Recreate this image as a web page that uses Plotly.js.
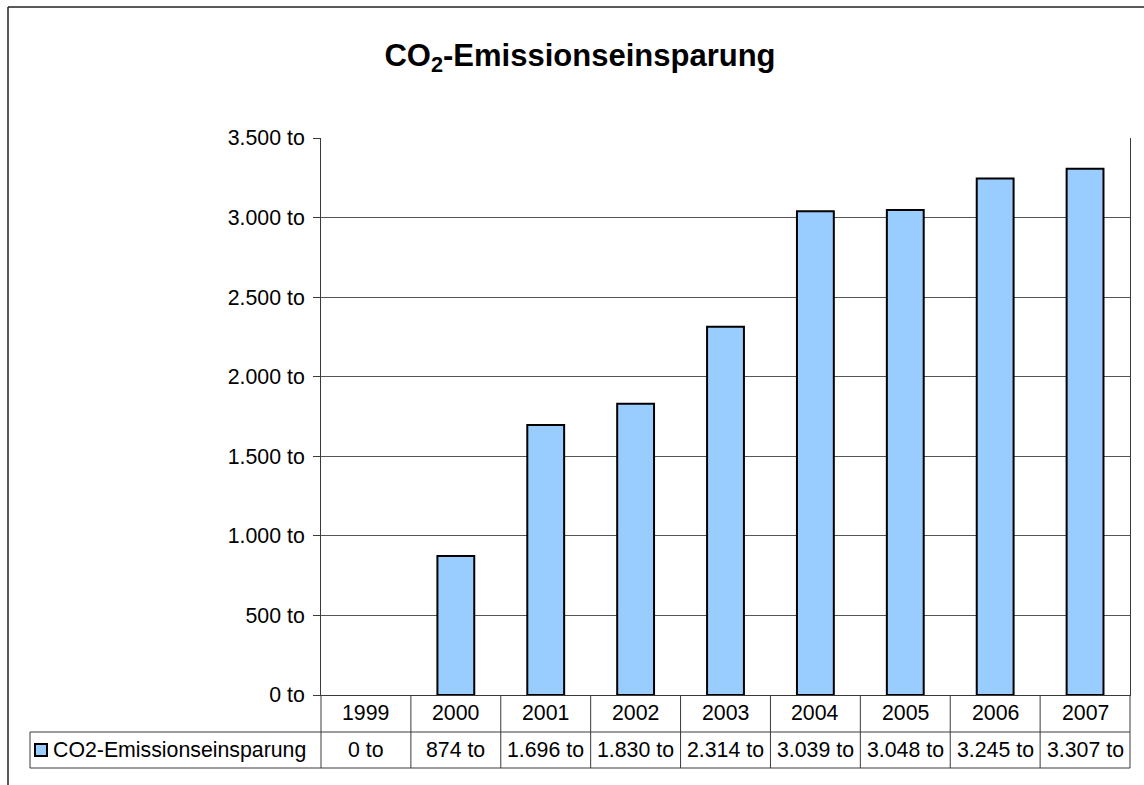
<!DOCTYPE html>
<html>
<head>
<meta charset="utf-8">
<script src="https://cdn.plot.ly/plotly-3.0.1.min.js"></script>
<style>
  html, body { margin: 0; padding: 0; background: #ffffff; }
  #chart { width: 1144px; height: 785px; }
</style>
</head>
<body>
<div id="chart"></div>
<script>
// ---- data ----
const years = ['1999', '2000', '2001', '2002', '2003', '2004', '2005', '2006', '2007'];
const savings = [0, 874, 1696, 1830, 2314, 3039, 3048, 3245, 3307];
const seriesName = 'CO2-Emissionseinsparung';
const chartTitle = 'CO<sub>2</sub>-Emissionseinsparung';
const yTickValues = [0, 500, 1000, 1500, 2000, 2500, 3000, 3500];
const unit = 'to';

// German thousands separator formatting
function fmt(v) {
  const s = String(Math.round(v));
  return s.replace(/\B(?=(\d{3})+(?!\d))/g, '.') + ' ' + unit;
}

// ---- layout geometry (pixels) ----
const W = 1144, H = 785;
const L = 321, R = 1130, T = 138, B = 695;
const PW = R - L, PH = B - T;
const px = x => (x - L) / PW;       // pixel x -> paper x
const py = y => (B - y) / PH;       // pixel y -> paper y
const catX = i => px(L + (i + 0.5) * PW / years.length);

const FONT = 'Liberation Sans, Arial, sans-serif';
const FS = 21.3;
const LINE = '#3a3a3a';
const GRID = '#555555';

const shapes = [];
const annotations = [];

// outer chart border (left + top visible)
shapes.push({type: 'line', xref: 'paper', yref: 'paper', x0: px(8), x1: px(1160), y0: py(7), y1: py(7), line: {color: '#222', width: 1.5}});
shapes.push({type: 'line', xref: 'paper', yref: 'paper', x0: px(8), x1: px(8), y0: py(7), y1: py(800), line: {color: '#222', width: 1.5}});

// data table lines
const rowMid = 732, rowBot = 768;
shapes.push({type: 'line', xref: 'paper', yref: 'paper', x0: px(30), x1: px(R), y0: py(rowMid), y1: py(rowMid), line: {color: LINE, width: 1}});
shapes.push({type: 'line', xref: 'paper', yref: 'paper', x0: px(30), x1: px(R), y0: py(rowBot), y1: py(rowBot), line: {color: LINE, width: 1}});
shapes.push({type: 'line', xref: 'paper', yref: 'paper', x0: px(30), x1: px(30), y0: py(rowMid), y1: py(rowBot), line: {color: LINE, width: 1}});
for (let i = 0; i <= years.length; i++) {
  const xb = px(L + i * PW / years.length);
  shapes.push({type: 'line', xref: 'paper', yref: 'paper', x0: xb, x1: xb, y0: py(B), y1: py(rowBot), line: {color: LINE, width: 1}});
}

// legend key square
shapes.push({type: 'rect', xref: 'paper', yref: 'paper', x0: px(35), x1: px(47), y0: py(744), y1: py(756),
  fillcolor: '#99CCFF', line: {color: '#000', width: 2}});

// table text
years.forEach((yr, i) => {
  annotations.push({xref: 'paper', yref: 'paper', x: catX(i), y: py(713), text: yr, showarrow: false,
    xanchor: 'center', yanchor: 'middle', font: {family: FONT, size: FS, color: '#000'}});
  annotations.push({xref: 'paper', yref: 'paper', x: catX(i), y: py(750), text: fmt(savings[i]), showarrow: false,
    xanchor: 'center', yanchor: 'middle', font: {family: FONT, size: FS, color: '#000'}});
});
annotations.push({xref: 'paper', yref: 'paper', x: px(51), y: py(750), text: seriesName, showarrow: false,
  xanchor: 'left', yanchor: 'middle', font: {family: FONT, size: FS, color: '#000'}});

const trace = {
  type: 'bar',
  x: years,
  y: savings,
  name: seriesName,
  width: 0.41,
  marker: {color: '#99CCFF', line: {color: '#000000', width: savings.map(v => v === 0 ? 0 : 2)}},
  hoverinfo: 'skip'
};

const layout = {
  width: W, height: H,
  margin: {l: L, r: W - R, t: T, b: H - B, pad: 0},
  paper_bgcolor: '#ffffff',
  plot_bgcolor: '#ffffff',
  showlegend: false,
  title: {
    text: '<b>' + chartTitle + '</b>',
    font: {family: FONT, size: 31, color: '#000'},
    x: 580 / W, xanchor: 'center',
    y: 1 - 55 / H, yanchor: 'middle'
  },
  xaxis: {
    type: 'category',
    range: [-0.5, years.length - 0.5],
    showticklabels: false,
    ticks: '',
    showgrid: false,
    zeroline: false,
    showline: true, linecolor: LINE, linewidth: 1
  },
  yaxis: {
    range: [0, 3500],
    tickvals: yTickValues,
    ticktext: yTickValues.map(fmt),
    ticks: 'outside', ticklen: 7, tickcolor: LINE, tickwidth: 1,
    ticklabelstandoff: 4,
    tickfont: {family: FONT, size: FS, color: '#000'},
    showgrid: true, gridcolor: GRID, gridwidth: 1,
    zeroline: false,
    showline: true, linecolor: LINE, linewidth: 1, mirror: true
  },
  shapes: shapes,
  annotations: annotations
};

Plotly.newPlot('chart', [trace], layout, {displayModeBar: false, staticPlot: true});
</script>
</body>
</html>
